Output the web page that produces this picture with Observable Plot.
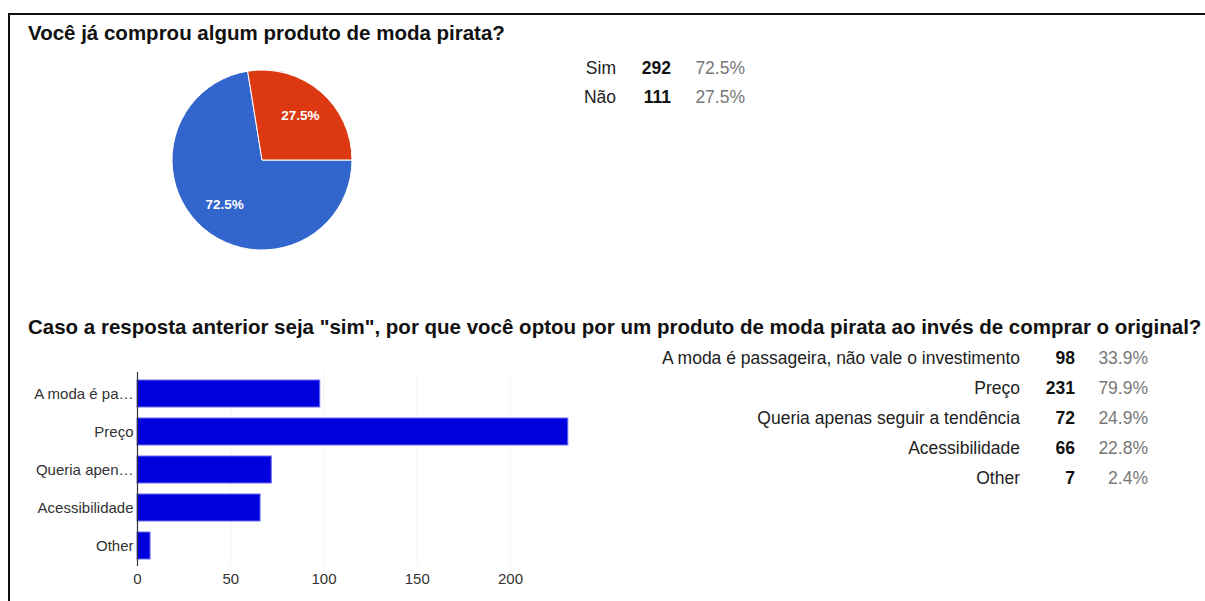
<!DOCTYPE html>
<html>
<head>
<meta charset="utf-8">
<script src="https://cdn.jsdelivr.net/npm/d3@7"></script>
<script src="https://cdn.jsdelivr.net/npm/@observablehq/plot@0.6"></script>
<style>
  html, body { margin: 0; padding: 0; background: #fff; width: 1205px; height: 601px; overflow: hidden; }
  body { font-family: "Liberation Sans", Arial, sans-serif; position: relative; color: #222; }
  .frame { position: absolute; left: 8px; top: 13px; width: 1200px; height: 600px; border-top: 2px solid #111; border-left: 2px solid #111; }
  .title { position: absolute; left: 28px; font-weight: bold; font-size: 20.5px; line-height: 24px; white-space: nowrap; color: #111; }
  .cell { position: absolute; font-size: 17.5px; line-height: 22px; white-space: nowrap; text-align: right; }
  .cnt { font-weight: bold; color: #111; }
  .pct { color: #777; }
  .lbl { color: #222; }
  #pie, #bars { position: absolute; }
</style>
</head>
<body>
<div class="frame"></div>
<div class="title" id="t1" style="top:21px"></div>
<div class="title" id="t2" style="top:315px"></div>
<div id="pie" style="left:162px; top:59.5px"></div>
<div id="bars" style="left:0px; top:340px"></div>
<div id="tab1"></div>
<div id="tab2"></div>
<script>
// ---- data ----
const title1 = "Você já comprou algum produto de moda pirata?";
const answers = ["Sim", "Não"];
const answerCounts = [292, 111];
const answerPcts = ["72.5%", "27.5%"];
const pieColors = ["#3366cc", "#dc3912"];

const title2 = "Caso a resposta anterior seja \"sim\", por que você optou por um produto de moda pirata ao invés de comprar o original?";
const reasons = ["A moda é passageira, não vale o investimento", "Preço", "Queria apenas seguir a tendência", "Acessibilidade", "Other"];
const reasonAxisLabels = ["A moda é pa…", "Preço", "Queria apen…", "Acessibilidade", "Other"];
const reasonCounts = [98, 231, 72, 66, 7];
const reasonPcts = ["33.9%", "79.9%", "24.9%", "22.8%", "2.4%"];
const xTicks = [0, 50, 100, 150, 200];

document.getElementById("t1").textContent = title1;
document.getElementById("t2").textContent = title2;

// ---- pie ----
const pieData = answers.map((a, i) => ({answer: a, count: answerCounts[i], pct: answerPcts[i], color: pieColors[i]}));
const pieGen = d3.pie().value(d => d.count).sort(null).startAngle(Math.PI / 2).endAngle(Math.PI / 2 + 2 * Math.PI);
const arcs = pieGen(pieData);
const labelR = 0.65;
const pieLabels = arcs.map(a => {
  const m = (a.startAngle + a.endAngle) / 2;
  return {x: labelR * Math.sin(m), y: labelR * Math.cos(m), text: a.data.pct};
});

const piePlot = Plot.plot({
  width: 200, height: 200, margin: 10,
  x: {domain: [-1, 1], axis: null},
  y: {domain: [-1, 1], axis: null},
  style: {fontFamily: "Liberation Sans, Arial, sans-serif", background: "transparent"},
  marks: [
    (index, scales) => {
      const cx = scales.x(0), cy = scales.y(0);
      const R = scales.x(1) - scales.x(0);
      const arc = d3.arc().innerRadius(0).outerRadius(R);
      const g = d3.create("svg:g").attr("transform", `translate(${cx},${cy})`);
      g.selectAll("path").data(arcs).join("path")
        .attr("d", arc).attr("fill", d => d.data.color)
        .attr("stroke", "#fff").attr("stroke-width", 1);
      return g.node();
    },
    Plot.text(pieLabels, {x: "x", y: "y", text: "text", fill: "#fff", fontWeight: "bold", fontSize: 13.5})
  ]
});
document.getElementById("pie").appendChild(piePlot);

// ---- bars ----
const barData = reasons.map((r, i) => ({reason: r, count: reasonCounts[i]}));
const labelMap = new Map(reasons.map((r, i) => [r, reasonAxisLabels[i]]));
const barPlot = Plot.plot({
  width: 600, height: 260,
  marginLeft: 137, marginRight: 15.4, marginTop: 32, marginBottom: 34,
  x: {domain: [0, 240], ticks: xTicks, tickSize: 0, tickPadding: 7, label: null},
  y: {domain: reasons, tickSize: 0, tickPadding: 4, tickFormat: d => labelMap.get(d), label: null, paddingInner: 0.3, paddingOuter: 0.15},
  style: {fontFamily: "Liberation Sans, Arial, sans-serif", fontSize: "15px", color: "#333", background: "transparent"},
  marks: [
    Plot.ruleX(xTicks.slice(1), {stroke: "#f4f4f4", strokeWidth: 1}),
    Plot.barX(barData, {x: "count", y: "reason", fill: "#0000dd", stroke: "#6f6ff0", strokeWidth: 1}),
    Plot.ruleX([0], {stroke: "#333", strokeWidth: 1.2})
  ]
});
document.getElementById("bars").appendChild(barPlot);

// ---- tables ----
function addCell(parent, text, cls, right, top, width) {
  const d = document.createElement("div");
  d.className = "cell " + cls;
  d.textContent = text;
  d.style.left = (right - width) + "px";
  d.style.width = width + "px";
  d.style.top = top + "px";
  parent.appendChild(d);
}
const tab1 = document.getElementById("tab1");
answers.forEach((a, i) => {
  const top = 57 + i * 29;
  addCell(tab1, a, "lbl", 616, top, 100);
  addCell(tab1, String(answerCounts[i]), "cnt", 671, top, 50);
  addCell(tab1, answerPcts[i], "pct", 745, top, 70);
});
const tab2 = document.getElementById("tab2");
reasons.forEach((r, i) => {
  const top = 347 + i * 30;
  addCell(tab2, r, "lbl", 1020, top, 420);
  addCell(tab2, String(reasonCounts[i]), "cnt", 1075, top, 50);
  addCell(tab2, reasonPcts[i], "pct", 1148, top, 70);
});
</script>
</body>
</html>
